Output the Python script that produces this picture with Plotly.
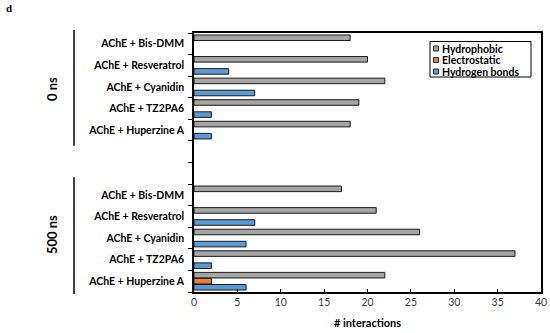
import plotly.graph_objects as go

# ---- data ----
compounds = ["AChE + Bis-DMM", "AChE + Resveratrol", "AChE + Cyanidin",
             "AChE + TZ2PA6", "AChE + Huperzine A"]
groups = ["0 ns", "500 ns"]

hydrophobic_0 = [18, 20, 22, 19, 18]
electrostatic_0 = [0, 0, 0, 0, 0]
hbond_0 = [0, 4, 7, 2, 2]

hydrophobic_500 = [17, 21, 26, 37, 22]
electrostatic_500 = [0, 0, 0, 0, 2]
hbond_500 = [0, 7, 6, 2, 6]

series_names = ["Hydrophobic", "Electrostatic", "Hydrogen bonds"]
series_colors = ["#A5A5A5", "#ED7D31", "#5B9BD5"]

x_ticks = [0, 5, 10, 15, 20, 25, 30, 35, 40]

# category ids: 0 ns block, two empty spacer rows, 500 ns block
cat_ids = ([f"0|{c}" for c in compounds] + ["gap1", "gap2"] +
           [f"500|{c}" for c in compounds])
cat_text = compounds + ["", ""] + compounds


def padded(a0, a500):
    vals = list(a0) + [0, 0] + list(a500)
    return [v if v else None for v in vals]


series_vals = [padded(hydrophobic_0, hydrophobic_500),
               padded(electrostatic_0, electrostatic_500),
               padded(hbond_0, hbond_500)]

fig = go.Figure()
for name, col, vals in zip(series_names, series_colors, series_vals):
    fig.add_trace(go.Bar(
        y=cat_ids, x=vals, orientation="h", name=name,
        marker=dict(color=col, line=dict(color="#1a1a1a", width=1)),
        showlegend=False,
    ))

font_family = "Lato, Open Sans, sans-serif"

fig.update_layout(
    width=550, height=333,
    margin=dict(l=194, r=9, t=33, b=41, autoexpand=False),
    paper_bgcolor="white", plot_bgcolor="white",
    barmode="group", bargap=0.16, bargroupgap=0.08,
    font=dict(family=font_family, color="#000"),
    showlegend=False,
    xaxis=dict(
        range=[0, 40], tickvals=x_ticks, automargin=False,
        ticks="inside", ticklen=3, tickcolor="#000",
        showline=True, linecolor="#000", linewidth=1.5, mirror=True,
        showgrid=False, zeroline=False,
        tickfont=dict(size=10.5, color="#404040"),
        title=dict(text="# interactions", font=dict(size=11, weight="bold"),
                   standoff=12),
    ),
    yaxis=dict(
        type="category", categoryorder="array", categoryarray=cat_ids,
        tickvals=cat_ids, ticktext=cat_text, automargin=False,
        autorange="reversed",
        tickson="boundaries", ticks="outside", ticklen=4, tickcolor="#000",
        showline=True, linecolor="#000", linewidth=1.5, mirror=True,
        showgrid=False, zeroline=False,
        tickfont=dict(size=10.5, family=font_family, weight="bold"),
        ticklabelstandoff=6,
    ),
)

# legend (compact, Excel-style)
def px_x(p):
    return (p - 194) / 347


def px_y(p):
    return (292 - p) / 259


fig.add_shape(type="rect", xref="paper", yref="paper",
              x0=px_x(430), x1=px_x(531), y0=px_y(77), y1=px_y(41.5),
              line=dict(color="#000", width=1), fillcolor="white")
for i, (name, col) in enumerate(zip(series_names, series_colors)):
    yc = 48.5 + i * 11.5
    fig.add_shape(type="rect", xref="paper", yref="paper",
                  x0=px_x(433.5), x1=px_x(438.5),
                  y0=px_y(yc + 2.5), y1=px_y(yc - 2.5),
                  line=dict(color="#222", width=1), fillcolor=col)
    fig.add_annotation(text=name, xref="paper", yref="paper",
                       x=px_x(440), y=px_y(yc), xanchor="left",
                       yanchor="middle", showarrow=False,
                       font=dict(size=10.5, family=font_family,
                                 weight="bold"))

# group labels and separator lines
for label, ycen, y0, y1 in [(groups[0], px_y(89), 1.012, 0.565),
                            (groups[1], px_y(235), 0.443, -0.008)]:
    fig.add_annotation(text=label, xref="paper", yref="paper",
                       x=px_x(52), y=ycen, textangle=-90, showarrow=False,
                       xanchor="center", yanchor="middle",
                       font=dict(size=13, family=font_family,
                                 weight="bold"))
    fig.add_shape(type="line", xref="paper", yref="paper",
                  x0=px_x(74), x1=px_x(74), y0=y0, y1=y1,
                  line=dict(color="#000", width=1.5))

fig.add_annotation(text="d", xref="paper", yref="paper",
                   x=px_x(4), y=px_y(8), showarrow=False, xanchor="left",
                   yanchor="middle",
                   font=dict(size=11, family="Liberation Serif, serif",
                             weight="bold"))

fig.write_html("out.html",
               config={"displayModeBar": False},
               post_script="document.body.style.margin='0';"
                           "document.body.style.padding='0';")
